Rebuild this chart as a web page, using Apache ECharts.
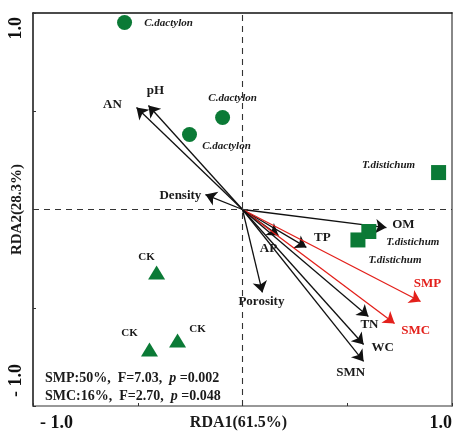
<!DOCTYPE html>
<html><head><meta charset="utf-8">
<script src="https://cdn.jsdelivr.net/npm/echarts@6/dist/echarts.min.js"></script>
<style>html,body{margin:0;padding:0;background:#fff}#c{width:453px;height:432px}</style>
</head><body><div id="c"></div>
<script>
// Environmental variable arrows (biplot scores)
const envNames = ['AN','pH','Density','OM','TP','AP','Porosity','SMP','SMC','TN','WC','SMN'];
const envRDA1 = [-0.506,-0.449,-0.177,0.687,0.305,0.172,0.095,0.850,0.726,0.601,0.578,0.578];
const envRDA2 = [0.519,0.529,0.076,-0.092,-0.193,-0.132,-0.422,-0.468,-0.580,-0.545,-0.687,-0.773];
const significantVars = ['SMP','SMC'];
// Sample scores
const sampleGroups = ['C.dactylon','C.dactylon','C.dactylon','T.distichum','T.distichum','T.distichum','CK','CK','CK'];
const sampleRDA1 = [-0.563,-0.095,-0.253,0.936,0.603,0.551,-0.410,-0.444,-0.310];
const sampleRDA2 = [0.952,0.468,0.382,0.188,-0.112,-0.155,-0.320,-0.712,-0.667];
// Tick labels
const tickValues = [-1, 1];
const xTickLabels = ['- 1.0', '1.0'];
const yTickLabels = ['- 1.0', '1.0'];
const xName = 'RDA1(61.5%)';
const yName = 'RDA2(28.3%)';
const statsRows = [['SMP:50%,  F=7.03,  ', 'p', ' =0.002'], ['SMC:16%,  F=2.70,  ', 'p', ' =0.048']];

// ---- styles ----
const FONT = 'Liberation Serif';
const GREEN = '#0b7a36';
const RED = '#e3201b';
const groupSymbol = {'C.dactylon': 'circle', 'T.distichum': 'rect', 'CK': 'triangle'};
const groupSize = {'C.dactylon': 15, 'T.distichum': 15, 'CK': [17, 14]};
const envLabelOffset = {AN:[-24,-3], pH:[7,-15], Density:[-25,1], OM:[17,-3], TP:[16,-10], AP:[-10,13],
  Porosity:[-1,9], SMP:[7,-18], SMC:[21,7], TN:[1,8], WC:[19,3], SMN:[-13,11]};
const sampleLabelOffset = [[44,1],[10,-19],[37,12],[-50,-7],[44,11],[37,20],[-10,-15],[-20,-16],[20,-11]];

const chart = echarts.init(document.getElementById('c'), null, {renderer: 'canvas'});

const lineData = envNames.map((n, i) => {
  const red = significantVars.includes(n);
  return {
    name: n,
    coords: [[0, 0], [envRDA1[i], envRDA2[i]]],
    lineStyle: {color: red ? RED : '#111'}
  };
});

const envLabelData = envNames.map((n, i) => {
  const red = significantVars.includes(n);
  return {
    name: n,
    value: [envRDA1[i], envRDA2[i]],
    label: {offset: envLabelOffset[n], color: red ? RED : '#1a1a1a'}
  };
});

const sampleData = sampleGroups.map((g, i) => ({
  name: g,
  value: [sampleRDA1[i], sampleRDA2[i]],
  symbol: groupSymbol[g],
  symbolSize: groupSize[g],
  label: {
    offset: sampleLabelOffset[i],
    fontStyle: g === 'CK' ? 'normal' : 'italic',
    fontSize: 11
  }
}));

function tickFmt(labels) {
  return function (v) {
    const k = tickValues.indexOf(Math.round(v * 1000) / 1000);
    if (k < 0) return '';
    return k === 0 ? '{mn|' + labels[k] + '}' : '{mx|' + labels[k] + '}';
  };
}

const labelFont = {fontFamily: FONT, fontWeight: 'bold', fontSize: 18, color: '#111'};

chart.setOption({
  animation: false,
  backgroundColor: '#fff',
  grid: {left: 33, right: 1, top: 13, bottom: 26, containLabel: false, outerBoundsMode: 'none'},
  title: {
    left: 45, top: 369, padding: 0,
    text: statsRows.map(r => r[0] + '{i|' + r[1] + '}' + r[2]).join('\n'),
    textStyle: {
      fontFamily: FONT, fontWeight: 'bold', fontSize: 14, color: '#1a1a1a', lineHeight: 18,
      rich: {i: {fontFamily: FONT, fontWeight: 'bold', fontStyle: 'italic', fontSize: 14, color: '#1a1a1a', lineHeight: 18}}
    }
  },
  xAxis: [{
    type: 'value', min: -1, max: 1, interval: 0.5, position: 'bottom',
    name: xName, nameLocation: 'middle', nameGap: 9, nameMoveOverlap: false,
    nameTextStyle: {fontFamily: FONT, fontWeight: 'bold', fontSize: 16, color: '#1a1a1a', verticalAlign: 'top', padding: [0, 8, 0, 0]},
    axisLine: {onZero: false, lineStyle: {color: '#777', width: 1.5}},
    axisTick: {show: true, inside: true, length: 3, lineStyle: {color: '#333'}},
    splitLine: {show: false},
    axisLabel: Object.assign({margin: 8, formatter: tickFmt(xTickLabels),
      alignMinLabel: 'left', alignMaxLabel: 'right',
      rich: {mn: Object.assign({padding: [0, 0, 0, 7]}, labelFont), mx: Object.assign({}, labelFont)}}, labelFont)
  }, {
    type: 'value', min: -1, max: 1, position: 'top',
    axisLine: {onZero: false, lineStyle: {color: '#111', width: 1.5}},
    axisTick: {show: false}, axisLabel: {show: false}, splitLine: {show: false}
  }],
  yAxis: [{
    type: 'value', min: -1, max: 1, interval: 0.5, position: 'left',
    name: yName, nameLocation: 'middle', nameGap: 8, nameRotate: 90, nameMoveOverlap: false,
    nameTextStyle: {fontFamily: FONT, fontWeight: 'bold', fontSize: 15, color: '#1a1a1a', verticalAlign: 'bottom'},
    axisLine: {onZero: false, lineStyle: {color: '#111', width: 1.5}},
    axisTick: {show: true, inside: true, length: 3, lineStyle: {color: '#333'}},
    splitLine: {show: false},
    axisLabel: Object.assign({margin: 8, rotate: 90, formatter: tickFmt(yTickLabels),
      alignMinLabel: 'left', alignMaxLabel: 'right',
      rich: {mn: Object.assign({padding: [0, 0, 0, 9]}, labelFont), mx: Object.assign({padding: [0, 4, 0, 0]}, labelFont)}}, labelFont)
  }, {
    type: 'value', min: -1, max: 1, position: 'right',
    axisLine: {onZero: false, lineStyle: {color: '#888', width: 2}},
    axisTick: {show: false}, axisLabel: {show: false}, splitLine: {show: false}
  }],
  series: [
    {
      type: 'scatter', name: 'zero', data: [], silent: true,
      markLine: {
        silent: true, symbol: 'none', label: {show: false},
        lineStyle: {color: '#333', type: [6, 5], width: 1.1},
        data: [{xAxis: 0}, {yAxis: 0}]
      }
    },
    {
      type: 'lines', coordinateSystem: 'cartesian2d', silent: true,
      symbol: ['none', 'arrow'], symbolSize: 11,
      lineStyle: {width: 1.3, opacity: 1, curveness: 0},
      data: lineData, z: 3
    },
    {
      type: 'scatter', silent: true, symbolSize: 1,
      itemStyle: {color: 'rgba(255,255,255,0)'},
      label: {show: true, position: 'inside', formatter: '{b}', fontFamily: FONT, fontWeight: 'bold', fontSize: 13,
        textBorderWidth: 0, textBorderColor: 'transparent', opacity: 1},
      data: envLabelData, z: 4
    },
    {
      type: 'scatter', silent: true,
      itemStyle: {color: GREEN, opacity: 1},
      label: {show: true, position: 'inside', formatter: '{b}', fontFamily: FONT, fontWeight: 'bold', color: '#1a1a1a',
        textBorderWidth: 0},
      data: sampleData, z: 5
    }
  ]
});
</script></body></html>
